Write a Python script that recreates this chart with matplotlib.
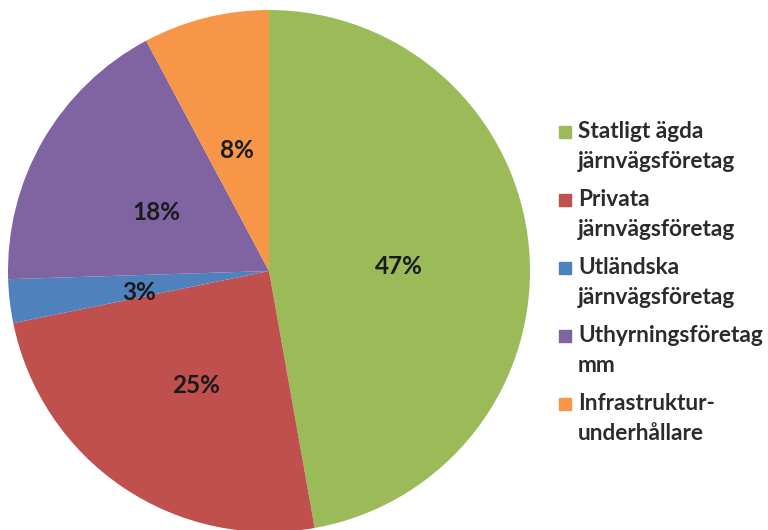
import matplotlib
matplotlib.use("Agg")
import matplotlib.pyplot as plt
from matplotlib.patches import Rectangle

plt.rcParams['font.family'] = ['Lato', 'DejaVu Sans']

# data (shares)
categories = ['Statligt ägda\njärnvägsföretag', 'Privata\njärnvägsföretag',
              'Utländska\njärnvägsföretag', 'Uthyrningsföretag\nmm',
              'Infrastruktur-\nunderhållare']
shares = [47.2, 24.6, 2.7, 17.7, 7.8]
colors = ['#9BBB59', '#C0504D', '#4F81BD', '#8064A2', '#F79646']

W, H = 768, 530
fig = plt.figure(figsize=(W / 100, H / 100), dpi=100)

# pie circle: center ~ (269, 271) px, radius ~ 261 px
cx, cy, r = 269, 271, 261
ax = fig.add_axes([(cx - r) / W, (H - cy - r) / H, 2 * r / W, 2 * r / H])
wedges, texts, autotexts = ax.pie(
    shares, colors=colors, startangle=90, counterclock=False,
    autopct='%.0f%%', pctdistance=0.5,
    textprops=dict(fontsize=17.5, fontweight='bold', color='#1a1a1a'),
    wedgeprops=dict(linewidth=0))
for t in autotexts:
    x, y = t.get_position()
    t.set_position((x, y - 0.025))
ax.set_xlim(-1, 1)
ax.set_ylim(-1, 1)
ax.set_aspect('equal')
ax.axis('off')

# legend drawn by hand so the marker sits on the first line
item_top = 132
step = 68
for i, (lab, col) in enumerate(zip(categories, colors)):
    y1 = item_top + i * step
    fig.patches.append(Rectangle((559 / W, 1 - (y1 + 6) / H), 12 / W, 12 / H,
                                 transform=fig.transFigure, color=col))
    for j, line in enumerate(lab.split('\n')):
        fig.text(578 / W, 1 - (y1 + j * 30) / H, line, fontsize=16.3,
                 fontweight='bold', color='#2b2b2b', va='center', ha='left')

fig.savefig('out.png', dpi=100)
